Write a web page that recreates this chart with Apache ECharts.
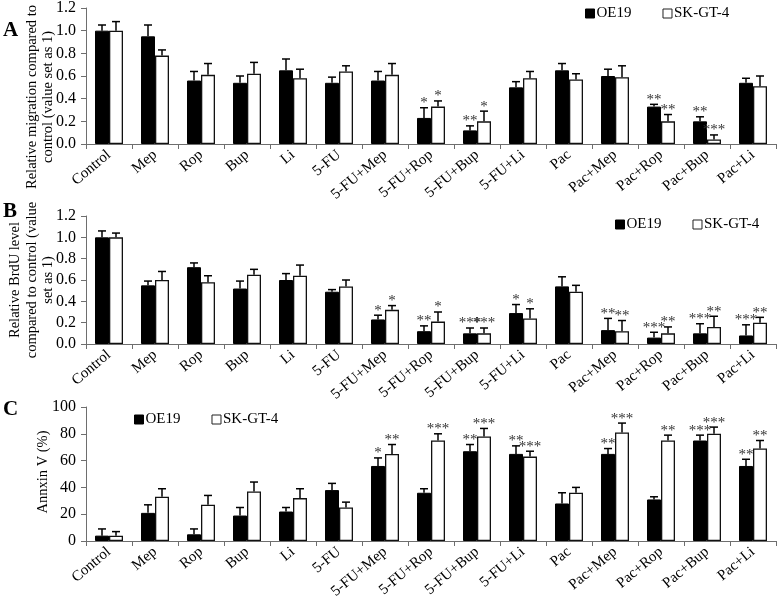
<!DOCTYPE html>
<html>
<head>
<meta charset="utf-8">
<script src="https://cdn.jsdelivr.net/npm/echarts@6/dist/echarts.min.js"></script>
<style>
html,body{margin:0;padding:0;background:#fff;}
#chart{width:778px;height:602px;}
</style>
</head>
<body>
<div id="chart"></div>
<script>
// ---------------- DATA ----------------
const categories = ['Control','Mep','Rop','Bup','Li','5-FU','5-FU+Mep','5-FU+Rop','5-FU+Bup','5-FU+Li','Pac','Pac+Mep','Pac+Rop','Pac+Bup','Pac+Li'];
const seriesNames = ['OE19','SK-GT-4'];

// Panel A: relative migration
const migOE19     = [1.00,0.95,0.56,0.54,0.65,0.54,0.56,0.23,0.12,0.50,0.65,0.60,0.33,0.20,0.54];
const migOE19Err  = [0.05,0.10,0.08,0.06,0.10,0.05,0.08,0.09,0.04,0.05,0.06,0.06,0.02,0.04,0.04];
const migSK       = [1.00,0.78,0.61,0.62,0.58,0.64,0.61,0.33,0.20,0.58,0.57,0.59,0.20,0.04,0.51];
const migSKErr    = [0.08,0.05,0.10,0.10,0.08,0.05,0.10,0.05,0.09,0.06,0.05,0.10,0.06,0.04,0.09];
const migOE19Sig  = ['','','','','','','','*','**','','','','**','**',''];
const migSKSig    = ['','','','','','','','*','*','','','','**','***',''];

// Panel B: relative BrdU level
const brdOE19     = [1.00,0.55,0.72,0.52,0.60,0.49,0.23,0.12,0.10,0.29,0.54,0.13,0.06,0.10,0.08];
const brdOE19Err  = [0.06,0.04,0.04,0.07,0.06,0.02,0.04,0.05,0.05,0.08,0.09,0.11,0.05,0.09,0.10];
const brdSK       = [1.00,0.60,0.58,0.65,0.64,0.54,0.32,0.21,0.10,0.24,0.49,0.12,0.10,0.16,0.20];
const brdSKErr    = [0.04,0.08,0.06,0.05,0.10,0.06,0.04,0.09,0.05,0.09,0.06,0.10,0.06,0.10,0.05];
const brdOE19Sig  = ['','','','','','','*','**','***','*','','**','***','***','***'];
const brdSKSig    = ['','','','','','','*','*','***','*','','**','**','**','**'];

// Panel C: Annexin V (%)
const annOE19     = [4,21,5,19,22,38,56,36,67,65,28,65,31,75,56];
const annOE19Err  = [5,6,4,6,3,5,6,3,5,6,8,4,2,4,5];
const annSK       = [4,33,27,37,32,25,65,75,78,63,36,81,75,80,69];
const annSKErr    = [3,6,7,7,7,4,7,5,6,4,4,7,4,5,6];
const annOE19Sig  = ['','','','','','','*','','**','**','','**','','***','**'];
const annSKSig    = ['','','','','','','**','***','***','***','','***','**','***','**'];

// Axis ticks
const yTicksAB = {min:0, max:1.2, interval:0.2};
const yTicksC  = {min:0, max:100, interval:20};

// ---------------- STYLE ----------------
const FONT = '"Liberation Serif", "Times New Roman", serif';
const BAR_W = 14;
const AXIS_COLOR = '#6e6e6e';

const grids = [
  {left:86, right:2, top:6,   height:138},
  {left:86, right:2, top:216, height:128},
  {left:86, right:2, top:407, height:134}
];

function xAxis(i){
  return {
    type:'category', gridIndex:i, data:categories,
    axisLine:{lineStyle:{color:AXIS_COLOR,width:1}},
    axisTick:{show:true, length:5, lineStyle:{color:AXIS_COLOR}},
    axisLabel:{rotate:40, margin:9, fontFamily:FONT, fontSize:15, color:'#000', interval:0}
  };
}
function yAxis(i, t, dec){
  return {
    type:'value', gridIndex:i, min:t.min, max:t.max, interval:t.interval,
    splitLine:{show:false},
    axisLine:{show:true, lineStyle:{color:AXIS_COLOR,width:1}},
    axisTick:{show:true, length:5, lineStyle:{color:AXIS_COLOR}},
    axisLabel:{margin:10, fontFamily:FONT, fontSize:16, color:'#000',
      formatter: v => dec ? v.toFixed(1) : String(Math.round(v))}
  };
}

function bars(i, name, vals){
  const black = name === seriesNames[0];
  return {
    type:'bar', name:name, xAxisIndex:i, yAxisIndex:i, data:vals,
    barWidth:BAR_W, barGap:'0%',
    itemStyle: black ? {color:'#000', borderColor:'#000', borderWidth:1}
                     : {color:'#fff', borderColor:'#111', borderWidth:1.3},
    emphasis:{disabled:true}
  };
}

function errs(i, vals, errArr, sig, side){
  return {
    type:'custom', name:'err'+i+side, xAxisIndex:i, yAxisIndex:i,
    data: vals.map((v,k)=>[k, v, errArr[k]]),
    z:5,
    renderItem:(params, api)=>{
      const c = api.value(0), v = api.value(1), e = api.value(2);
      const p0 = api.coord([c, v]);
      const p1 = api.coord([c, v+e]);
      const x = p0[0] + side*BAR_W/2;
      const children = [
        {type:'line', shape:{x1:x, y1:p0[1], x2:x, y2:p1[1]}, style:{stroke:'#000', lineWidth:1.5}},
        {type:'line', shape:{x1:x-4, y1:p1[1], x2:x+4, y2:p1[1]}, style:{stroke:'#000', lineWidth:1.5}}
      ];
      const s = sig[params.dataIndex];
      if (s) {
        children.push({type:'text', x:x, y:p1[1]+3,
          style:{text:s, fontFamily:FONT, fontSize:15, fill:'#333', align:'center', verticalAlign:'bottom'}});
      }
      return {type:'group', children};
    }
  };
}

function legend(left, top){
  return {
    left:left, top:top, itemWidth:9, itemHeight:9, itemGap:31,
    icon:'rect',
    data:[
      {name:'OE19', itemStyle:{color:'#000', borderColor:'#000', borderWidth:1}},
      {name:'SK-GT-4', itemStyle:{color:'#fff', borderColor:'#222', borderWidth:1}}
    ],
    textStyle:{fontFamily:FONT, fontSize:15, color:'#000', padding:[0,0,0,-3]},
    selectedMode:false
  };
}

function vText(x, y, text, lh){
  return {type:'text', x:x, y:y, rotation:Math.PI/2,
    style:{text:text, fontFamily:FONT, fontSize:14.5, fill:'#000', align:'center', verticalAlign:'middle', lineHeight:lh}};
}
function panelLetter(x, y, t){
  return {type:'text', x:x, y:y,
    style:{text:t, fontFamily:FONT, fontSize:21, fontWeight:'bold', fill:'#000', align:'left', verticalAlign:'middle'}};
}

const option = {
  animation:false,
  backgroundColor:'#fff',
  grid: grids,
  xAxis:[xAxis(0), xAxis(1), xAxis(2)],
  yAxis:[yAxis(0,yTicksAB,true), yAxis(1,yTicksAB,true), yAxis(2,yTicksC,false)],
  legend:[legend(580,1), legend(610,212), legend(129,407)],
  series:[
    bars(0, seriesNames[0], migOE19), bars(0, seriesNames[1], migSK),
    errs(0, migOE19, migOE19Err, migOE19Sig, -1), errs(0, migSK, migSKErr, migSKSig, 1),
    bars(1, seriesNames[0], brdOE19), bars(1, seriesNames[1], brdSK),
    errs(1, brdOE19, brdOE19Err, brdOE19Sig, -1), errs(1, brdSK, brdSKErr, brdSKSig, 1),
    bars(2, seriesNames[0], annOE19), bars(2, seriesNames[1], annSK),
    errs(2, annOE19, annOE19Err, annOE19Sig, -1), errs(2, annSK, annSKErr, annSKSig, 1)
  ],
  graphic:[
    vText(40, 97, 'Relative migration compared to\ncontrol (value set as 1)', 16),
    vText(32, 280, 'Relative BrdU level\ncompared to control (value\nset as 1)', 16.5),
    vText(43, 472, 'Annxin V (%)', 16),
    panelLetter(3, 31, 'A'),
    panelLetter(3, 212, 'B'),
    panelLetter(3, 410, 'C')
  ]
};

const chart = echarts.init(document.getElementById('chart'), null, {renderer:'canvas'});
chart.setOption(option);
</script>
</body>
</html>
